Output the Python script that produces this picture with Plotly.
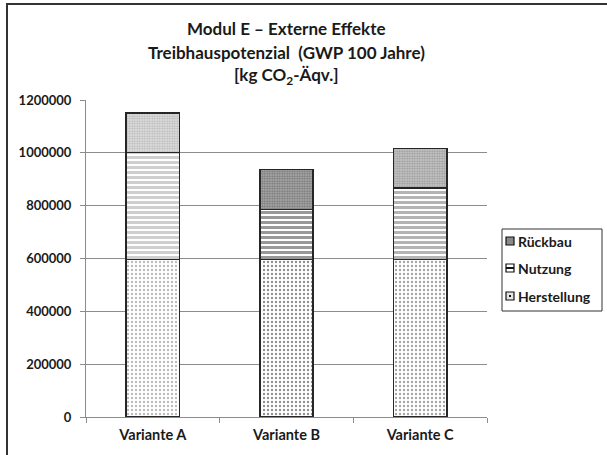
import plotly.graph_objects as go

categories = ["Variante A", "Variante B", "Variante C"]
herstellung = [596000, 596000, 597000]
nutzung = [405000, 190000, 270000]
rueckbau = [150000, 151000, 150000]
y_ticks = [0, 200000, 400000, 600000, 800000, 1000000, 1200000]
title_lines = ["Modul E – Externe Effekte",
               "Treibhauspotenzial  (GWP 100 Jahre)",
               "[kg CO<sub>2</sub>-Äqv.]"]
legend_names = ["Rückbau", "Nutzung", "Herstellung"]

W, H = 607, 455
L, R, T, B = 86, 120, 100, 38
pw, ph = W - L - R, H - T - B

def px(x):
    return (x - L) / pw

def py(y):
    return (H - B - y) / ph

font_fam = "Lato, 'Open Sans', sans-serif"
txt = "#1a1a1a"
edge = dict(color="#262626", width=1.5)

fig = go.Figure()
fig.add_trace(go.Bar(
    x=categories, y=herstellung, name="Herstellung",
    marker=dict(color="white", line=edge,
                pattern=dict(shape=".", fgcolor=["#7a7a7a", "#202020", "#4a4a4a"],
                             bgcolor="white", size=4, solidity=0.28, fillmode="overlay")),
))
fig.add_trace(go.Bar(
    x=categories, y=nutzung, name="Nutzung",
    marker=dict(color="white", line=edge,
                pattern=dict(shape="-", fgcolor=["#a0a0a0", "#333333", "#6a6a6a"],
                             bgcolor="white", size=5, solidity=0.6, fillmode="overlay")),
))
fig.add_trace(go.Bar(
    x=categories, y=rueckbau, name="Rückbau",
    marker=dict(color="white", line=edge,
                pattern=dict(shape=".", fgcolor=["#8c8c8c", "#3c3c3c", "#6a6a6a"],
                             bgcolor=["#e8e8e8", "#b4b4b4", "#cfcfcf"],
                             size=2.5, solidity=0.55, fillmode="overlay")),
))

fig.update_layout(
    width=W, height=H,
    margin=dict(l=L, r=R, t=T, b=B, autoexpand=False),
    barmode="stack", bargap=0.6,
    paper_bgcolor="white", plot_bgcolor="white",
    font=dict(family=font_fam, size=13, color=txt),
    showlegend=False,
    xaxis=dict(
        type="category", showline=True, linecolor="#8c8c8c", linewidth=1,
        ticks="outside", ticklen=5, tickcolor="#8c8c8c", tickson="boundaries",
        tickfont=dict(family=font_fam, size=14.5, color=txt, weight="bold"),
        showgrid=False, ticklabelstandoff=5,
    ),
    yaxis=dict(
        range=[0, 1200000], tickvals=y_ticks, ticktext=[str(v) for v in y_ticks],
        showline=True, linecolor="#8c8c8c", linewidth=1,
        ticks="outside", ticklen=5, tickcolor="#8c8c8c",
        showgrid=True, gridcolor="#8c8c8c", gridwidth=1,
        zeroline=False, ticklabelstandoff=6,
        tickfont=dict(family=font_fam, size=13, color=txt, weight="bold"),
    ),
)

# title lines
for line, yc in zip(title_lines, [28, 52, 76]):
    fig.add_annotation(text=f"<b>{line}</b>", xref="paper", yref="paper",
                       x=0.5, y=py(yc), xanchor="center", yanchor="middle",
                       showarrow=False, font=dict(family=font_fam, size=17, color=txt))

# outer chart border
fig.add_shape(type="rect", xref="paper", yref="paper",
              x0=px(7), x1=px(640), y0=py(470), y1=py(4),
              line=dict(color="#333333", width=2), fillcolor="rgba(0,0,0,0)",
              layer="above")

# legend box
fig.add_shape(type="rect", xref="paper", yref="paper",
              x0=px(502), x1=px(602), y0=py(311), y1=py(229),
              line=dict(color="#333333", width=1), fillcolor="white", layer="above")
sym_fill = ["#8a8a8a", "white", "#e4e4e4"]
for i, (name, yc) in enumerate(zip(legend_names, [241, 268, 296])):
    fig.add_shape(type="rect", xref="paper", yref="paper",
                  x0=px(506), x1=px(514), y0=py(yc + 4), y1=py(yc - 4),
                  line=dict(color="#111111", width=1.2), fillcolor=sym_fill[i], layer="above")
    if name == "Nutzung":
        fig.add_shape(type="line", xref="paper", yref="paper",
                      x0=px(506), x1=px(514), y0=py(yc), y1=py(yc),
                      line=dict(color="#111111", width=2), layer="above")
    if name == "Herstellung":
        fig.add_shape(type="rect", xref="paper", yref="paper",
                      x0=px(509), x1=px(511), y0=py(yc + 1), y1=py(yc - 1),
                      line=dict(color="#111111", width=0), fillcolor="#111111", layer="above")
    fig.add_annotation(text=f"<b>{name}</b>", xref="paper", yref="paper",
                       x=px(516), y=py(yc), xanchor="left", yanchor="middle",
                       showarrow=False, font=dict(family=font_fam, size=14, color=txt))

fig.write_html("out.html")
